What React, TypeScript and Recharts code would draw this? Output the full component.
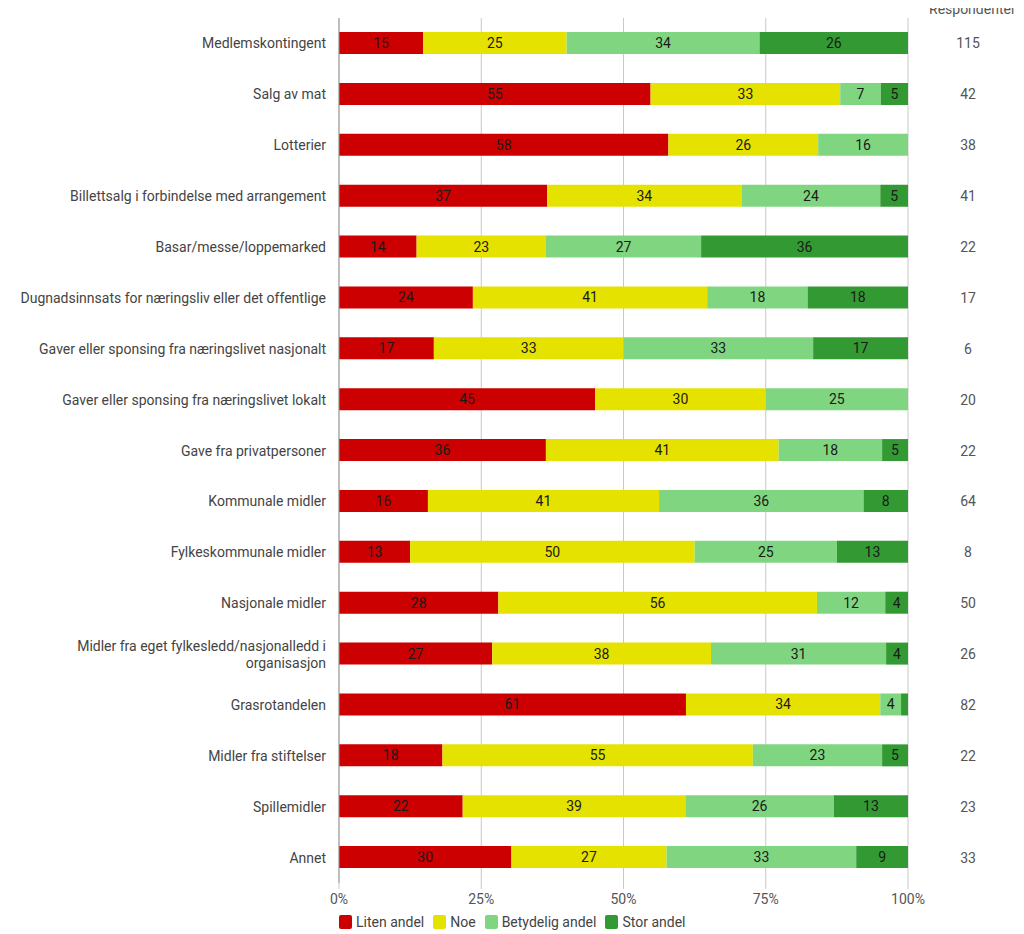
import React from 'react';
import {
  BarChart,
  Bar,
  XAxis,
  YAxis,
  CartesianGrid,
  Legend,
  LabelList,
} from 'recharts';

const categories = [
  'Medlemskontingent',
  'Salg av mat',
  'Lotterier',
  'Billettsalg i forbindelse med arrangement',
  'Basar/messe/loppemarked',
  'Dugnadsinnsats for næringsliv eller det offentlige',
  'Gaver eller sponsing fra næringslivet nasjonalt',
  'Gaver eller sponsing fra næringslivet lokalt',
  'Gave fra privatpersoner',
  'Kommunale midler',
  'Fylkeskommunale midler',
  'Nasjonale midler',
  'Midler fra eget fylkesledd/nasjonalledd i organisasjon',
  'Grasrotandelen',
  'Midler fra stiftelser',
  'Spillemidler',
  'Annet',
];

const liten = [14.78, 54.76, 57.89, 36.59, 13.64, 23.53, 16.67, 45, 36.36, 15.63, 12.5, 28, 26.92, 60.98, 18.18, 21.74, 30.3];
const noe = [25.22, 33.33, 26.32, 34.15, 22.73, 41.18, 33.33, 30, 40.91, 40.62, 50, 56, 38.46, 34.14, 54.55, 39.13, 27.27];
const betydelig = [33.91, 7.14, 15.79, 24.39, 27.27, 17.65, 33.33, 25, 18.18, 35.94, 25, 12, 30.77, 3.66, 22.72, 26.09, 33.33];
const stor = [26.09, 4.77, 0, 4.87, 36.36, 17.64, 16.67, 0, 4.55, 7.81, 12.5, 4, 3.85, 1.22, 4.55, 13.04, 9.1];
const respondents = [115, 42, 38, 41, 22, 17, 6, 20, 22, 64, 8, 50, 26, 82, 22, 23, 33];

const seriesKeys = ['liten', 'noe', 'betydelig', 'stor'];
const seriesNames = ['Liten andel', 'Noe', 'Betydelig andel', 'Stor andel'];
const seriesColors = ['#cc0000', '#e6e200', '#80d680', '#339933'];
const xTicks = [0, 25, 50, 75, 100];
const respondentHeader = 'Respondenter';

const data = categories.map((name, i) => ({
  name,
  liten: liten[i],
  noe: noe[i],
  betydelig: betydelig[i],
  stor: stor[i],
  resp: respondents[i],
}));

const FONT = 'Roboto, "Noto Sans", sans-serif';
const MAX_CHARS = 52;

function wrapLabel(s: string): string[] {
  const words = s.split(' ');
  const lines: string[] = [];
  let cur = '';
  for (const w of words) {
    const next = cur ? cur + ' ' + w : w;
    if (next.length > MAX_CHARS && cur) {
      lines.push(cur);
      cur = w;
    } else {
      cur = next;
    }
  }
  if (cur) lines.push(cur);
  return lines;
}

const CategoryTick = (props: any) => {
  const { x, y, payload } = props;
  const lines = wrapLabel(String(payload.value));
  const lh = 17;
  const start = -((lines.length - 1) * lh) / 2;
  return (
    <text x={x} y={y} textAnchor="end" fontSize={14} fontFamily={FONT} fill="#444">
      {lines.map((l, i) => (
        <tspan key={i} x={x} y={y + start + i * lh} dominantBaseline="central">
          {l}
        </tspan>
      ))}
    </text>
  );
};

const RespTick = (props: any) => {
  const { x, y, index } = props;
  return (
    <text
      x={x + 52}
      y={y}
      textAnchor="middle"
      dominantBaseline="central"
      fontSize={14}
      fontFamily={FONT}
      fill="#555"
    >
      {respondents[index]}
    </text>
  );
};

const BarValueLabel = (props: any) => {
  const { x, y, width, height, value } = props;
  if (value == null || value < 2) return null;
  return (
    <text
      x={Number(x) + Number(width) / 2}
      y={Number(y) + Number(height) / 2}
      textAnchor="middle"
      dominantBaseline="central"
      fontSize={14}
      fontFamily={FONT}
      fill="#1a1a1a"
    >
      {Math.round(value)}
    </text>
  );
};

const LegendContent = () => (
  <div
    style={{
      display: 'flex',
      alignItems: 'center',
      height: 22,
      fontFamily: FONT,
      fontSize: 14,
      color: '#444',
    }}
  >
    {seriesNames.map((n, i) => (
      <div key={n} style={{ display: 'flex', alignItems: 'center', marginRight: 9 }}>
        <span
          style={{
            display: 'inline-block',
            width: 13,
            height: 14,
            borderRadius: 2,
            background: seriesColors[i],
            marginRight: 4,
          }}
        />
        <span>{n}</span>
      </div>
    ))}
  </div>
);

export default function App() {
  return (
    <div style={{ position: 'relative', width: 1008, height: 934, marginTop: -8, fontFamily: FONT }}>
      <div
        style={{
          position: 'absolute',
          top: 1,
          left: 921,
          fontSize: 14,
          lineHeight: '16px',
          color: '#555',
          fontFamily: FONT,
          zIndex: 2,
        }}
      >
        {respondentHeader}
      </div>
      <BarChart
        width={1008}
        height={934}
        data={data}
        layout="vertical"
        margin={{ top: 18, right: 0, bottom: 1, left: 0 }}
      >
        <CartesianGrid horizontal={false} vertical={true} stroke="#c8c8c8" />
        <XAxis
          type="number"
          domain={[0, 100]}
          allowDataOverflow
          ticks={xTicks}
          tickFormatter={(v: number) => `${v}%`}
          axisLine={false}
          tickLine={{ stroke: '#c8c8c8' }}
          tick={{ fontSize: 14, fontFamily: FONT, fill: '#555' }}
          tickMargin={5}
          height={28}
          interval={0}
        />
        <YAxis
          type="category"
          dataKey="name"
          width={331}
          axisLine={{ stroke: '#999' }}
          tickLine={false}
          tick={<CategoryTick />}
          tickMargin={7}
          interval={0}
        />
        <YAxis
          yAxisId="resp"
          orientation="right"
          type="category"
          dataKey="name"
          width={108}
          axisLine={false}
          tickLine={false}
          tick={<RespTick />}
          interval={0}
        />
        {seriesKeys.map((k, i) => (
          <Bar
            key={k}
            dataKey={k}
            name={seriesNames[i]}
            stackId="a"
            fill={seriesColors[i]}
            barSize={22}
            isAnimationActive={false}
          >
            <LabelList dataKey={k} content={<BarValueLabel />} />
          </Bar>
        ))}
        <Legend
          verticalAlign="bottom"
          align="left"
          content={<LegendContent />}
          wrapperStyle={{ left: 331, width: 'auto' }}
        />
      </BarChart>
    </div>
  );
}
